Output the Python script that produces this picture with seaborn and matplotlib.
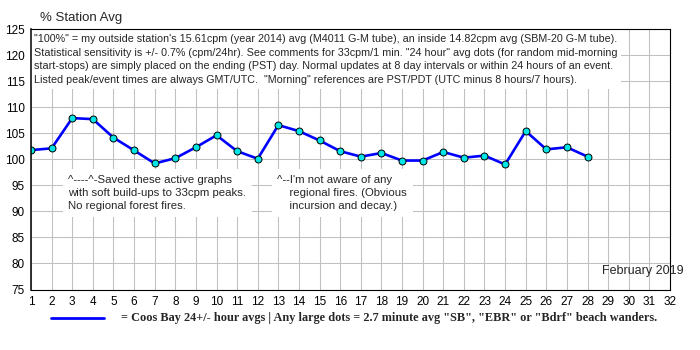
import numpy as np
import pandas as pd
import matplotlib
matplotlib.use("Agg")
import matplotlib.pyplot as plt
import seaborn as sns

# Daily station averages, % of the 2014 outdoor baseline (February 2019)
days = list(range(1, 29))
pct_avg = [101.75, 102.1, 107.9, 107.7, 104.15, 101.7, 99.2, 100.2, 102.3, 104.6,
           101.55, 100.1, 106.55, 105.4, 103.6, 101.55, 100.5, 101.2, 99.75, 99.75,
           101.4, 100.3, 100.7, 99.0, 105.4, 101.9, 102.3, 100.5]

x_ticks = list(range(1, 33))
y_ticks = list(range(75, 126, 5))

notes_top = [
    "\"100%\" = my outside station's 15.61cpm (year 2014) avg (M4011 G-M tube), an inside 14.82cpm avg (SBM-20 G-M tube).",
    "Statistical sensitivity is +/- 0.7% (cpm/24hr). See comments for 33cpm/1 min. \"24 hour\" avg dots (for random mid-morning",
    "start-stops) are simply placed on the ending (PST) day. Normal updates at 8 day intervals or within 24 hours of an event.",
    "Listed peak/event times are always GMT/UTC.  \"Morning\" references are PST/PDT (UTC minus 8 hours/7 hours).",
]
note_a = "^----^-Saved these active graphs\nwith soft build-ups to 33cpm peaks.\nNo regional forest fires."
note_b = "^--I'm not aware of any\n    regional fires. (Obvious\n    incursion and decay.)"
legend_text = "= Coos Bay 24+/- hour avgs | Any large dots = 2.7 minute avg \"SB\", \"EBR\" or \"Bdrf\" beach wanders."

df = pd.DataFrame({"day": days, "pct": pct_avg})

sns.set_style("white")
plt.rcParams["font.family"] = ["Liberation Sans", "DejaVu Sans"]

fig = plt.figure(figsize=(7, 3.5), dpi=100)
ax = fig.add_axes([31 / 700, 1 - 289.5 / 350, 639 / 700, 260.5 / 350])

ax.set_xlim(1, 32)
ax.set_ylim(75, 125)
ax.set_xticks(x_ticks)
ax.set_xticklabels([str(t) for t in x_ticks])
ax.set_xticks(np.arange(1.5, 32, 1.0), minor=True)
ax.set_yticks(y_ticks)
ax.set_yticks(range(75, 126), minor=True)
ax.grid(True, which="major", color="#c0c0c0", linewidth=0.75)
ax.grid(False, which="minor")
ax.set_axisbelow(True)

ax.tick_params(axis="both", which="major", direction="inout", length=7, width=0.75,
               labelsize=8.5, colors="black", pad=1)
ax.tick_params(axis="both", which="minor", direction="inout", length=7, width=0.75)
ax.tick_params(axis="y", which="minor", length=6)
for s in ax.spines.values():
    s.set_color("black")
    s.set_linewidth(0.8)
    s.set_zorder(6)
ax.spines["left"].set_linewidth(1.1)

sns.lineplot(data=df, x="day", y="pct", ax=ax, color="#0000ff", linewidth=1.9,
             marker="o", markersize=5, markerfacecolor="#00e5e5",
             markeredgecolor="black", markeredgewidth=0.7, zorder=4)
ax.set_xlabel("")
ax.set_ylabel("")

# white text panels laid over the grid
ax.text(0.004, 0.982, "\n".join(notes_top), transform=ax.transAxes, fontsize=7.75,
        va="top", ha="left", linespacing=1.48, zorder=5,
        bbox=dict(facecolor="white", edgecolor="none", pad=3))
ax.text(2.8, 97.0, note_a, fontsize=8.2, va="top", ha="left", linespacing=1.4,
        zorder=5, bbox=dict(facecolor="white", edgecolor="none", pad=4))
ax.text(12.95, 97.0, note_b, fontsize=8.2, va="top", ha="left", linespacing=1.4,
        zorder=5, bbox=dict(facecolor="white", edgecolor="none", pad=4))

ax.text(28.7, 78.5, "February 2019", fontsize=9, va="center", ha="left",
        zorder=5, clip_on=False)

fig.text(40 / 700, 1 - 18 / 350, "% Station Avg", fontsize=9.5, va="center", ha="left")

# legend row under the axis
fig.lines.append(plt.Line2D([51 / 700, 104 / 700], [1 - 318 / 350, 1 - 318 / 350],
                            transform=fig.transFigure, color="#0000ff", linewidth=2.0))
fig.text(121 / 700, 1 - 318 / 350, legend_text, fontsize=8.8, fontweight="bold",
         family=["Liberation Serif", "DejaVu Serif"], va="center", ha="left")

fig.savefig("out.png", dpi=100, facecolor="white")
